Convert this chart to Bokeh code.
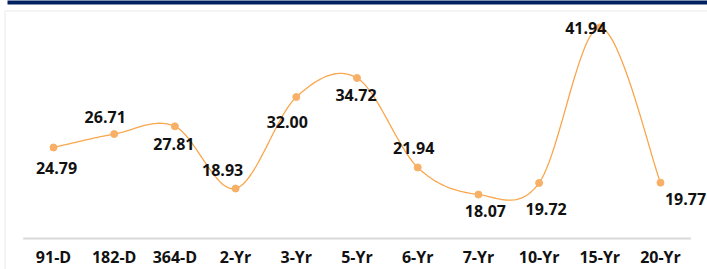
from bokeh.plotting import figure
from bokeh.models import Range1d, FixedTicker, BoxAnnotation
from bokeh.core.properties import value
from bokeh.embed import file_html
from bokeh.resources import INLINE

# ---- data ----
tenors = ["91-D", "182-D", "364-D", "2-Yr", "3-Yr", "5-Yr", "6-Yr", "7-Yr", "10-Yr", "15-Yr", "20-Yr"]
values = [24.79, 26.71, 27.81, 18.93, 32.00, 34.72, 21.94, 18.07, 19.72, 41.94, 19.77]

# label nudges (screen px, +y = down)
label_dx = [3, -9, -1, -13, -9, -1, -4, 7, 7, -14, 25]
label_dy = [20, -17, 18, -19, 25, 17, -19, 16, 26, 1, 16]

W, H = 707, 269
AXIS_ROW = 238              # canvas row of the category axis line
X0, DX = 53.0, 60.7         # canvas px of first category, spacing
Y_REF, V_REF, PX_PER_UNIT = 147.0, 24.79, 7.0

def px2x(px):
    return (px - X0) / DX

def px2y(py):
    return V_REF + (Y_REF - py) / PX_PER_UNIT

x_idx = list(range(len(tenors)))
axis_y = px2y(AXIS_ROW)

# smoothed line (Catmull-Rom as cubic Bezier, like Excel's smoothed line)
sx, sy = [], []
n = len(values)
N = 24
for i in range(n - 1):
    p0 = (x_idx[max(i - 1, 0)], values[max(i - 1, 0)])
    p1 = (x_idx[i], values[i])
    p2 = (x_idx[i + 1], values[i + 1])
    p3 = (x_idx[min(i + 2, n - 1)], values[min(i + 2, n - 1)])
    c1 = (p1[0] + (p2[0] - p0[0]) / 6.0, p1[1] + (p2[1] - p0[1]) / 6.0)
    c2 = (p2[0] - (p3[0] - p1[0]) / 6.0, p2[1] - (p3[1] - p1[1]) / 6.0)
    for k in range(N + (1 if i == n - 2 else 0)):
        t = k / N
        a, b, c, d = (1 - t) ** 3, 3 * (1 - t) ** 2 * t, 3 * (1 - t) * t ** 2, t ** 3
        sx.append(a * p1[0] + b * c1[0] + c * c2[0] + d * p2[0])
        sy.append(a * p1[1] + b * c1[1] + c * c2[1] + d * p2[1])

p = figure(width=W, height=H, output_backend="svg", toolbar_location=None,
           x_range=Range1d(px2x(0), px2x(W)),
           y_range=Range1d(px2y(H), px2y(0)),
           min_border_left=0, min_border_right=0, min_border_top=0,
           min_border_bottom=0)
p.outline_line_color = None
p.background_fill_color = "white"
p.border_fill_color = "white"
p.grid.visible = False
p.yaxis.visible = False

ax = p.xaxis[0]
ax.fixed_location = axis_y
ax.ticker = FixedTicker(ticks=x_idx)
ax.major_label_overrides = {i: t for i, t in zip(x_idx, tenors)}
ax.axis_line_color = None
ax.major_tick_line_color = None
ax.minor_tick_line_color = None
ax.major_tick_out = 0
ax.major_tick_in = 0
ax.minor_tick_out = 0
ax.major_label_standoff = 7
ax.major_label_text_font = "Open Sans"
ax.major_label_text_font_style = "bold"
ax.major_label_text_font_size = "16px"
ax.major_label_text_color = "#111111"

# decorations: chart border and navy band
p.add_layout(BoxAnnotation(left=px2x(4.5), right=px2x(760), top=px2y(10.5), bottom=px2y(320),
                           fill_alpha=0, line_color="#d9d9d9", line_width=2))
p.add_layout(BoxAnnotation(left=px2x(7), right=px2x(760), top=px2y(-4), bottom=px2y(4),
                           fill_color="#002060", fill_alpha=1, line_color=None))

# category axis line spanning the category bands
p.segment(x0=[x_idx[0] - 0.5], y0=[axis_y], x1=[x_idx[-1] + 0.5], y1=[axis_y],
          line_color="#d9d9d9", line_width=2)

p.line(sx, sy, line_color="#F9A64C", line_width=1.3)
p.scatter(x_idx, values, size=7, fill_color="#F8B066", line_color="#F8B066")
p.text(x=x_idx, y=values, text=[f"{v:.2f}" for v in values],
       x_offset=label_dx, y_offset=label_dy,
       text_align="center", text_baseline="middle",
       text_font=value("Open Sans"), text_font_style="bold",
       text_font_size="16px", text_color="#111111")

open("out.html", "w").write(file_html(p, INLINE))
